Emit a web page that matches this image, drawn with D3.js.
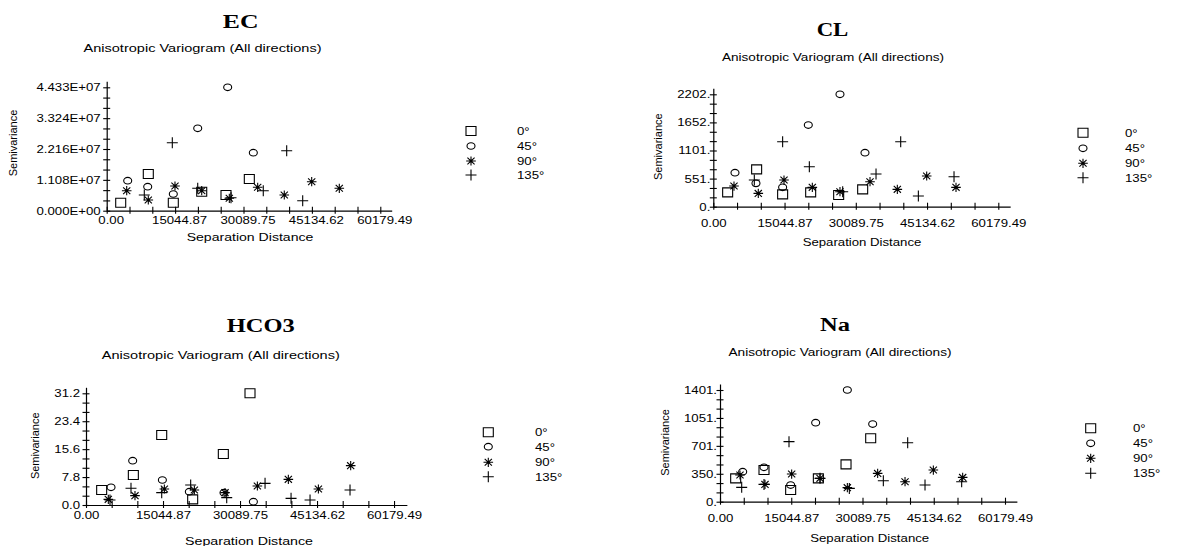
<!DOCTYPE html>
<html><head><meta charset="utf-8">
<script src="https://cdn.jsdelivr.net/npm/d3@7"></script>
<style>
html,body{margin:0;padding:0;background:#fff;}
svg{display:block;}
text{font-family:"Liberation Sans",Arial,sans-serif;fill:#000;}
</style></head>
<body>
<svg id="chart" width="1197" height="546"></svg>
<script>
// ---------- DATA ----------
const directions = ["0°", "45°", "90°", "135°"];
const xTickLabels = ["0.00", "15044.87", "30089.75", "45134.62", "60179.49"];
const xMax = 60179.49;
const panelTitles = ["EC", "CL", "HCO3", "Na"];
const subtitle = "Anisotropic Variogram (All directions)";
const yAxisTitle = "Semivariance";
const xAxisTitle = "Separation Distance";

const ecYTicks = ["0.000E+00", "1.108E+07", "2.216E+07", "3.324E+07", "4.433E+07"];
const ecYMax = 4.433e7;
const ec0 = [[3080,2.87e6],[9150,1.318e7],[14650,2.87e6],[20900,6.83e6],[26240,5.64e6],[31370,1.139e7]];
const ec45 = [[4620,1.078e7],[9020,8.62e6],[14650,6.0e6],[20020,2.96e7],[26610,4.433e7],[32250,2.083e7]];
const ec90 = [[4400,7.18e6],[9150,3.84e6],[15020,8.87e6],[20900,7.18e6],[26970,4.45e6],[33210,8.41e6],[39060,5.64e6],[45090,1.042e7],[51160,8.05e6]];
const ec135 = [[8270,5.64e6],[14430,2.443e7],[20020,8.05e6],[27340,4.67e6],[34440,7.18e6],[39590,2.155e7],[43110,3.59e6]];

const clYTicks = ["0.", "551.", "1101.", "1652.", "2202."];
const clYMax = 2202;
const cl0 = [[3030,281],[9150,731],[14640,242],[20560,281],[26470,229],[31540,340]];
const cl45 = [[4580,666],[9010,457],[14640,379],[20060,1600],[26750,2202],[32030,1058]];
const cl90 = [[4370,405],[9500,261],[14930,522],[20910,379],[26750,294],[33090,490],[38860,340],[45060,601],[51250,379]];
const cl135 = [[8660,522],[14640,1273],[20280,784],[27320,294],[34360,640],[39570,1273],[43300,209],[50830,588]];

const hcoYTicks = ["0.0", "7.8", "15.6", "23.4", "31.2"];
const hcoYMax = 31.2;
const hco0 = [[3060,4.19],[9250,8.38],[14790,19.56],[20840,1.58],[26830,14.25],[32040,31.2]];
const hco45 = [[4890,4.94],[9120,12.39],[14920,6.98],[20190,3.73],[26960,3.45],[32700,0.93]];
const hco90 = [[4360,1.58],[9570,2.61],[15310,4.47],[21170,4.19],[27160,3.45],[33480,5.31],[39530,7.17],[45400,4.47],[51710,10.99]];
const hco135 = [[4690,1.40],[8790,4.66],[14790,3.45],[20450,5.59],[27490,2.05],[34980,6.05],[40060,1.86],[43770,1.40],[51580,4.19]];

const naYTicks = ["0.", "350.", "701.", "1051.", "1401."];
const naYMax = 1401;
const na0 = [[3310,293],[9290,397],[14920,146],[20770,293],[26610,468],[31820,795]];
const na45 = [[4790,376],[9290,431],[14920,209],[20200,991],[26890,1401],[32240,974]];
const na90 = [[4220,335],[9500,217],[15130,347],[21120,293],[26890,176],[33290,355],[39070,251],[45050,397],[51240,305]];
const na135 = [[4580,180],[9290,217],[14570,753],[21120,293],[27310,167],[34490,263],[39630,740],[43290,209],[51030,251]];

// ---------- LAYOUT ----------
const panels = [
  {title: panelTitles[0], yTicks: ecYTicks, yMax: ecYMax, series: [ec0, ec45, ec90, ec135],
   x0: 106.7, step: 22.8, yBase: 210.7, yTop: 87.3, tickDy: 13, tickDx: 4, yLabGap: 6,
   t: {x: 240.7, y: 28.3, w: 35.7}, s: {x: 202.5, y: 51.5, w: 238}, yl: {x: 13.3, y: 143},
   xl: {x: 250, y: 241.3, w: 126.7}, lg: {sx: 471, tx: 517, ys: [131, 146, 161, 175]}},
  {title: panelTitles[1], yTicks: clYTicks, yMax: clYMax, series: [cl0, cl45, cl90, cl135],
   x0: 713.3, step: 23.75, yBase: 206.7, yTop: 94.3, tickDy: 20, tickDx: 0, yLabGap: 3,
   t: {x: 832.5, y: 36, w: 31.7}, s: {x: 833, y: 61, w: 222}, yl: {x: 658, y: 146.7},
   xl: {x: 862, y: 246.3, w: 118.7}, lg: {sx: 1083, tx: 1125, ys: [132.7, 148.3, 163.3, 177.7]}},
  {title: panelTitles[2], yTicks: hcoYTicks, yMax: hcoYMax, series: [hco0, hco45, hco90, hco135],
   x0: 86, step: 25.67, yBase: 505, yTop: 393.3, tickDy: 14, tickDx: 0, yLabGap: 6,
   t: {x: 260.8, y: 332.3, w: 68}, s: {x: 220.8, y: 359, w: 238}, yl: {x: 34.7, y: 445.8},
   xl: {x: 249, y: 544.7, w: 128}, lg: {sx: 488.3, tx: 535, ys: [432.3, 446.7, 462.3, 476.7]}},
  {title: panelTitles[3], yTicks: naYTicks, yMax: naYMax, series: [na0, na45, na90, na135],
   x0: 720, step: 23.75, yBase: 501.7, yTop: 390, tickDy: 20, tickDx: 0, yLabGap: 3,
   t: {x: 835, y: 331, w: 30}, s: {x: 840, y: 355.5, w: 223}, yl: {x: 665, y: 442.5},
   xl: {x: 869.7, y: 541.5, w: 119}, lg: {sx: 1090.7, tx: 1133, ys: [428.3, 443.3, 458.3, 473.3]}}
];

const STRETCH = 1.15;
const svg = d3.select("#chart");

function marker(g, k) {
  g.attr("fill", "none").attr("stroke", "#000").attr("stroke-width", 1.1);
  if (k === 0) g.append("path").attr("d", "M-5,-4.5H5V4.5H-5Z");
  else if (k === 1) g.append("ellipse").attr("rx", 4).attr("ry", 3.3);
  else if (k === 2) {
    g.append("path").attr("d", "M0,-4.6V4.6M-4.8,0H4.8M-3.6,-3.4L3.6,3.4M-3.6,3.4L3.6,-3.4");
    g.append("circle").attr("r", 1.3).attr("fill", "#000").attr("stroke", "none");
  } else g.append("path").attr("d", "M-5.5,0H5.5M0,-5.5V5.5");
}

panels.forEach(p => {
  const g = svg.append("g");
  const xEnd = p.x0 + 12.5 * p.step;
  const x = d3.scaleLinear().domain([0, xMax * 12.5 / 12]).range([p.x0, xEnd]);
  const span = p.yBase - p.yTop;
  const y = d3.scaleLinear().domain([0, p.yMax * (span + 6) / span]).range([p.yBase, p.yTop - 6]);

  // x axis
  const xTickVals = d3.range(13).map(i => i * xMax / 12);
  const xa = g.append("g").attr("transform", `translate(0,${p.yBase})`)
    .call(d3.axisBottom(x).tickValues(xTickVals).tickSizeOuter(0)
      .tickFormat((d, i) => i % 3 === 0 ? xTickLabels[i / 3] : ""));
  xa.select(".domain").attr("stroke", "#000").attr("stroke-width", 1.2);
  xa.selectAll(".tick line").attr("y1", -4).attr("y2", 3).attr("stroke", "#000").attr("stroke-width", 1.1);
  xa.selectAll(".tick text").attr("y", p.tickDy).attr("dy", 0).attr("x", 0)
    .attr("font-size", 11.5).attr("font-family", "Liberation Sans, Arial, sans-serif")
    .attr("transform", `translate(${p.tickDx},0) scale(${STRETCH},1)`);

  // y axis
  const yTickVals = d3.range(13).map(i => i * p.yMax / 12);
  const ya = g.append("g").attr("transform", `translate(${p.x0},0)`)
    .call(d3.axisLeft(y).tickValues(yTickVals).tickSizeOuter(0)
      .tickFormat((d, i) => i % 3 === 0 ? p.yTicks[i / 3] : ""));
  ya.select(".domain").attr("stroke", "#000").attr("stroke-width", 1.2);
  ya.selectAll(".tick line").attr("x1", -3.5).attr("x2", 3.5).attr("stroke", "#000").attr("stroke-width", 1.1);
  ya.selectAll(".tick text").attr("x", -p.yLabGap / STRETCH).attr("dy", "0.3em")
    .attr("font-size", 11.5).attr("font-family", "Liberation Sans, Arial, sans-serif")
    .attr("transform", `scale(${STRETCH},1)`);

  // titles
  g.append("text").attr("x", p.t.x).attr("y", p.t.y).attr("text-anchor", "middle")
    .style("font-family", "'Liberation Serif','Times New Roman',serif").attr("font-weight", "bold")
    .attr("font-size", 18).attr("textLength", p.t.w).attr("lengthAdjust", "spacingAndGlyphs").text(p.title);
  g.append("text").attr("x", p.s.x).attr("y", p.s.y).attr("text-anchor", "middle")
    .attr("font-size", 11.5).attr("textLength", p.s.w).attr("lengthAdjust", "spacingAndGlyphs").text(subtitle);
  g.append("text").attr("transform", `translate(${p.yl.x},${p.yl.y}) rotate(-90)`)
    .attr("text-anchor", "middle").attr("dy", "0.35em").attr("font-size", 11).text(yAxisTitle);
  g.append("text").attr("x", p.xl.x).attr("y", p.xl.y).attr("text-anchor", "middle")
    .attr("font-size", 11.5).attr("textLength", p.xl.w).attr("lengthAdjust", "spacingAndGlyphs").text(xAxisTitle);

  // points
  p.series.forEach((data, k) => {
    g.append("g").selectAll("g").data(data).join("g")
      .attr("transform", d => `translate(${x(d[0])},${y(d[1])})`)
      .each(function () { marker(d3.select(this), k); });
  });

  // legend
  directions.forEach((lab, k) => {
    const lgItem = g.append("g").attr("transform", `translate(${p.lg.sx},${p.lg.ys[k]})`);
    marker(lgItem, k);
    g.append("text").attr("transform", `translate(${p.lg.tx},${p.lg.ys[k] + 4}) scale(${STRETCH},1)`)
      .attr("font-size", 11.5).text(lab);
  });
});
</script>
</body></html>
